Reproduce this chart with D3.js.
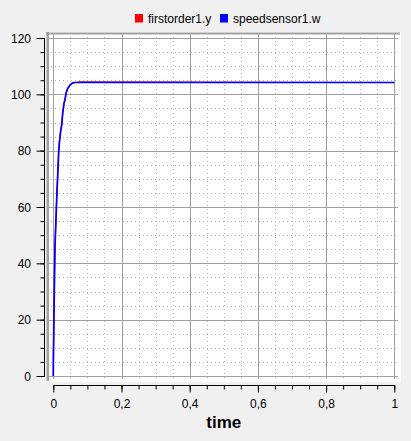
<!DOCTYPE html>
<html><head><meta charset="utf-8">
<script src="https://cdn.jsdelivr.net/npm/d3@7"></script>
<style>
html,body{margin:0;padding:0;background:#f0f0f0;}
svg{display:block;font-family:"Liberation Sans",Arial,sans-serif;}
</style></head><body>
<script>
// ---- data ----
const seriesNames = ["firstorder1.y", "speedsensor1.w"];
const seriesColors = ["#ff0000", "#0000ff"];
const time =          [0,   0.0004, 0.0035, 0.005, 0.010, 0.0123, 0.0158, 0.0182, 0.0217, 0.0246, 0.0276, 0.0314, 0.0352, 0.0372, 0.0422, 0.049, 0.057, 0.0636, 0.078, 1.0];
const firstorderY =   [0,   7.5,    35.5,   46.5,  63.4,  69.9,   79.7,   83.5,   87.1,   89.1,   93.3,   96.8,   98.6,   100.4,  102.1,  103.3,  104.1, 104.2,  104.4, 104.2];
const speedsensorW =  [0,   7.0,    35.0,   46.0,  63.0,  69.6,   79.4,   83.3,   87.0,   89.1,   93.3,   96.8,   98.6,   100.4,  102.1,  103.3,  104.1, 104.2,  104.2, 104.2];
const xTicks = [0, 0.2, 0.4, 0.6, 0.8, 1];
const xTickLabels = ["0", "0,2", "0,4", "0,6", "0,8", "1"];
const yTicks = [0, 20, 40, 60, 80, 100, 120];
const xLabel = "time";

const W = 411, H = 441;
const svg = d3.select("body").append("svg").attr("width", W).attr("height", H);
svg.append("rect").attr("width", W).attr("height", H).attr("fill", "#f0f0f0");

const x = d3.scaleLinear().domain([0, 1]).range([53.3, 394.3]);
const y = d3.scaleLinear().domain([0, 120]).range([376, 38]);

// plot canvas
const cv = {x0: 46, x1: 401, y0: 32, y1: 382};
svg.append("rect").attr("x", cv.x0).attr("y", cv.y0).attr("width", cv.x1 - cv.x0).attr("height", cv.y1 - cv.y0).attr("fill", "#ffffff");

// minor grid (dotted)
const g = svg.append("g");
const xMinor = d3.range(0, 21).map(i => i * 0.05).filter(v => Math.round(v * 100) % 20 !== 0);
const yMinor = d3.range(0, 25).map(i => i * 5).filter(v => v % 20 !== 0);
g.selectAll(".vmin").data(xMinor).join("line")
  .attr("x1", d => Math.round(x(d)) + 0.5).attr("x2", d => Math.round(x(d)) + 0.5)
  .attr("y1", cv.y0 + 1).attr("y2", cv.y1 - 1)
  .attr("stroke", "#b4b4b4").attr("stroke-dasharray", "1,3");
g.selectAll(".hmin").data(yMinor).join("line")
  .attr("y1", d => Math.round(y(d)) + 0.5).attr("y2", d => Math.round(y(d)) + 0.5)
  .attr("x1", cv.x0 + 1).attr("x2", cv.x1 - 2)
  .attr("stroke", "#b4b4b4").attr("stroke-dasharray", "1,3");
// major grid (solid)
g.selectAll(".vmaj").data(xTicks).join("line")
  .attr("x1", d => Math.round(x(d)) + 0.5).attr("x2", d => Math.round(x(d)) + 0.5)
  .attr("y1", cv.y0 + 1).attr("y2", cv.y1 - 3)
  .attr("stroke", "#a0a0a0");
g.selectAll(".hmaj").data(yTicks).join("line")
  .attr("y1", d => Math.round(y(d)) + 0.5).attr("y2", d => Math.round(y(d)) + 0.5)
  .attr("x1", cv.x0 + 1).attr("x2", cv.x1 - 3)
  .attr("stroke", "#a0a0a0");
// frame (top / left)
svg.append("rect").attr("x", cv.x0).attr("y", 32.5).attr("width", cv.x1 - cv.x0 - 1).attr("height", 2).attr("fill", "#a0a0a0");
svg.append("rect").attr("x", 46.5).attr("y", cv.y0).attr("width", 2.5).attr("height", cv.y1 - cv.y0 - 1).attr("fill", "#a0a0a0");

// series
const line = vals => d3.line().x((d, i) => x(time[i])).y((d, i) => y(vals[i]))(vals);
svg.append("path").attr("d", line(firstorderY)).attr("fill", "none").attr("stroke", seriesColors[0]).attr("stroke-width", 1.2);
svg.append("path").attr("d", line(speedsensorW)).attr("fill", "none").attr("stroke", seriesColors[1]).attr("stroke-width", 1.7);

// left axis
const yAxisG = svg.append("g").attr("transform", "translate(44.5,0)");
yAxisG.call(d3.axisLeft(y).tickValues(d3.range(0, 121, 5)).tickSize(4).tickFormat(""));
yAxisG.call(gg => gg.select(".domain").remove());
yAxisG.append("line").attr("x1", 0).attr("x2", 0).attr("y1", y(120)).attr("y2", y(0) + 0.5).attr("stroke", "#000");
const yMaj = svg.append("g").attr("transform", "translate(44.5,0)")
  .call(d3.axisLeft(y).tickValues(yTicks).tickSize(8).tickPadding(6).tickFormat(d3.format("d")));
yMaj.select(".domain").remove();
yMaj.selectAll("text").attr("font-size", 12).attr("font-family", "Liberation Sans, Arial, sans-serif").attr("fill", "#000").attr("dy", "0.34em").attr("x", -13.5);
svg.selectAll(".tick line").attr("stroke", "#000");

// bottom axis
const xAxisMinor = svg.append("g").attr("transform", "translate(0,385.5)")
  .call(d3.axisBottom(x).tickValues(d3.range(0, 21).map(i => i * 0.05)).tickSize(4).tickFormat(""));
xAxisMinor.select(".domain").remove();
xAxisMinor.append("line").attr("x1", x(0)).attr("x2", x(1) + 0.5).attr("stroke", "#000");
const xMaj = svg.append("g").attr("transform", "translate(0,385.5)")
  .call(d3.axisBottom(x).tickValues(xTicks).tickSize(7).tickFormat((d, i) => xTickLabels[i]));
xMaj.select(".domain").remove();
xMaj.selectAll("text").attr("font-size", 12).attr("font-family", "Liberation Sans, Arial, sans-serif").attr("fill", "#000").attr("y", 22).attr("dy", 0);
svg.selectAll(".tick line").attr("stroke", "#000");

svg.append("text").attr("x", (x(0) + x(1)) / 2).attr("y", 428).attr("text-anchor", "middle")
  .attr("font-size", 17).attr("font-weight", "bold").text(xLabel);

// legend
const legX = [135, 220];
seriesNames.forEach((n, i) => {
  svg.append("rect").attr("x", legX[i]).attr("y", 14).attr("width", 8).attr("height", 8.5).attr("fill", seriesColors[i]);
  svg.append("text").attr("x", legX[i] + 13).attr("y", 23).attr("font-size", 12).attr("fill", "#000").text(n);
});
</script>
</body></html>
